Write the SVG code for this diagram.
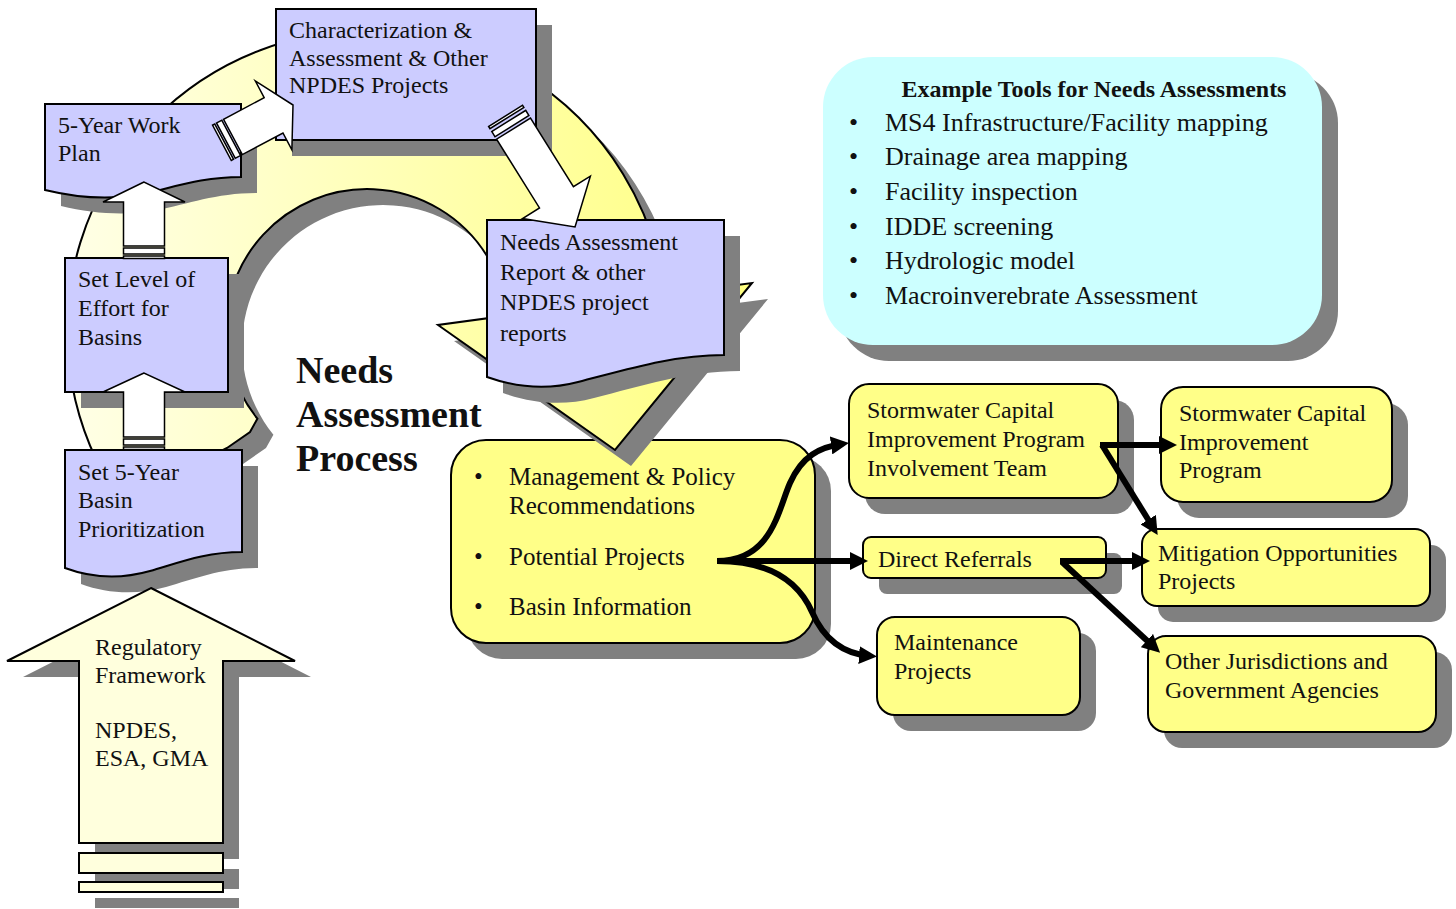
<svg xmlns="http://www.w3.org/2000/svg" xmlns:xlink="http://www.w3.org/1999/xlink" width="1456" height="909" viewBox="0 0 1456 909">
<defs>
  <linearGradient id="ringFill" gradientUnits="userSpaceOnUse" x1="70" y1="0" x2="750" y2="0">
    <stop offset="0" stop-color="#FFFFE6"/>
    <stop offset="1" stop-color="#FFFF80"/>
  </linearGradient>
  <marker id="ah" markerUnits="userSpaceOnUse" markerWidth="18" markerHeight="18" viewBox="0 0 18 18" refX="11" refY="9" orient="auto">
    <path d="M0,0 L18,9 L0,18 Z" fill="#000"/>
  </marker>
  <!-- circular process arrow -->
  <path id="ring" d="M257.4,418.7 L250,432 L227,448 L121,502 A300,300 0 1 1 665,294.6 L752,283 L615,450 L438,325 L507.3,315.6 A141,141 0 1 0 257.4,418.7 Z"/>
  <!-- document shapes -->
  <path id="docFive" d="M45,104 H241 V177 C200,177 172,188 142,194 C112,200 78,198 45,190 Z"/>
  <path id="docSet5" d="M65,450 H242 V552 C205,552 178,563 150,571 C122,579 92,578 65,568 Z"/>
  <path id="docNeeds" d="M487,220 H724 V355 C672,355 625,370 578,382 C548,390 518,388 487,377 Z"/>
  <path id="regArrow" d="M151,588 L295,661 L223,661 L223,843 L79,843 L79,661 L7,661 Z"/>
</defs>
<style>
  .sh{fill:#808080}
  .lav{fill:#CCCCFF;stroke:#000;stroke-width:2}
  .yel{fill:#FFFF88;stroke:#000;stroke-width:2}
  .cream{fill:#FFFFDD;stroke:#000;stroke-width:2}
  .blk{fill:#fff;stroke:#000;stroke-width:1.5}
  text{font-family:"Liberation Serif","Times New Roman",serif;font-size:24px;fill:#111}
  .b{font-weight:bold}
  .big{font-size:38px;font-weight:bold}
  .t25{font-size:25px}
  .t26{font-size:26px}
  .con{fill:none;stroke:#000;stroke-width:6;marker-end:url(#ah)}
</style>

<rect width="1456" height="909" fill="#fff"/>

<!-- outputs box under the cycle arrow head -->
<g id="outputs">
  <rect class="sh" x="467" y="456" width="364" height="203" rx="35"/>
  <rect class="yel" x="451" y="440" width="364" height="203" rx="35"/>
  <text class="t25" x="474" y="485">•</text>
  <text class="t25" x="509" y="485">Management &amp; Policy</text>
  <text class="t25" x="509" y="514">Recommendations</text>
  <text class="t25" x="474" y="565">•</text>
  <text class="t25" x="509" y="565">Potential Projects</text>
  <text class="t25" x="474" y="615">•</text>
  <text class="t25" x="509" y="615">Basin Information</text>
</g>

<!-- cycle arrow -->
<g id="cycle">
  <use xlink:href="#ring" href="#ring" class="sh" transform="translate(16,16)"/>
  <use xlink:href="#ring" href="#ring" fill="url(#ringFill)" stroke="#000" stroke-width="2"/>
</g>

<g id="characterization">
  <rect class="sh" x="292" y="25" width="260" height="131"/>
  <rect class="lav" x="276" y="9" width="260" height="131"/>
  <text x="289" y="38">Characterization &amp;</text>
  <text x="289" y="66">Assessment &amp; Other</text>
  <text x="289" y="93">NPDES Projects</text>
</g>

<g id="workplan">
  <use xlink:href="#docFive" href="#docFive" class="sh" transform="translate(16,16)"/>
  <use xlink:href="#docFive" href="#docFive" class="lav"/>
  <text x="58" y="133">5-Year Work</text>
  <text x="58" y="161">Plan</text>
</g>

<g id="effort">
  <rect class="sh" x="81" y="274" width="163" height="134"/>
  <rect class="lav" x="65" y="258" width="163" height="134"/>
  <text x="78" y="287">Set Level of</text>
  <text x="78" y="316">Effort for</text>
  <text x="78" y="345">Basins</text>
</g>

<g id="prioritization">
  <use xlink:href="#docSet5" href="#docSet5" class="sh" transform="translate(16,16)"/>
  <use xlink:href="#docSet5" href="#docSet5" class="lav"/>
  <text x="78" y="480">Set 5-Year</text>
  <text x="78" y="508">Basin</text>
  <text x="78" y="537">Prioritization</text>
</g>

<g id="report">
  <use xlink:href="#docNeeds" href="#docNeeds" class="sh" transform="translate(16,16)"/>
  <use xlink:href="#docNeeds" href="#docNeeds" class="lav"/>
  <text x="500" y="250">Needs Assessment</text>
  <text x="500" y="280">Report &amp; other</text>
  <text x="500" y="310">NPDES project</text>
  <text x="500" y="341">reports</text>
</g>

<!-- striped block arrows between process steps (drawn pointing +x, then placed) -->
<g id="step-arrows">
  <g transform="translate(144,373) rotate(-90)">
    <path class="blk" d="M0,0 L-19,-41 L-19,-20.5 L-64,-20.5 L-64,20.5 L-19,20.5 L-19,41 Z"/>
    <rect class="blk" x="-72" y="-20.5" width="6" height="41"/>
    <rect class="blk" x="-76.5" y="-20.5" width="2.5" height="41"/>
  </g>
  <g transform="translate(144,182) rotate(-90)">
    <path class="blk" d="M0,0 L-20,-41 L-20,-20.5 L-64,-20.5 L-64,20.5 L-20,20.5 L-20,41 Z"/>
    <rect class="blk" x="-72" y="-20.5" width="6" height="41"/>
    <rect class="blk" x="-76.5" y="-20.5" width="2.5" height="41"/>
  </g>
  <g transform="translate(293,105) rotate(-28)">
    <path class="blk" d="M0,0 L-22,-39 L-22,-20 L-68,-20 L-68,20 L-22,20 L-22,39 Z"/>
    <rect class="blk" x="-76" y="-20" width="6" height="40"/>
    <rect class="blk" x="-80.5" y="-20" width="2.5" height="40"/>
  </g>
  <g transform="translate(575,227) rotate(58)">
    <path class="blk" d="M0,0 L-35,-40 L-35,-20 L-116,-20 L-116,20 L-35,20 L-35,40 Z"/>
    <rect class="blk" x="-125" y="-20" width="6" height="40"/>
    <rect class="blk" x="-131" y="-20" width="2.5" height="40"/>
  </g>
</g>

<g id="regulatory">
  <use xlink:href="#regArrow" href="#regArrow" class="sh" transform="translate(16,16)"/>
  <rect class="sh" x="95" y="869" width="144" height="20"/>
  <rect class="sh" x="95" y="898" width="144" height="10"/>
  <use xlink:href="#regArrow" href="#regArrow" class="cream"/>
  <rect class="cream" x="79" y="853" width="144" height="20"/>
  <rect class="cream" x="79" y="882" width="144" height="10"/>
  <text x="95" y="655">Regulatory</text>
  <text x="95" y="683">Framework</text>
  <text x="95" y="738">NPDES,</text>
  <text x="95" y="766">ESA, GMA</text>
</g>

<g id="title">
  <text class="big" x="296" y="383">Needs</text>
  <text class="big" x="296" y="427">Assessment</text>
  <text class="big" x="296" y="471">Process</text>
</g>

<g id="tools">
  <rect class="sh" x="839" y="73" width="499" height="288" rx="50"/>
  <rect x="823" y="57" width="499" height="288" rx="50" fill="#CCFFFF"/>
  <text class="b" x="1094" y="97" text-anchor="middle">Example Tools for Needs Assessments</text>
  <text class="t26" x="849" y="131">•</text>
  <text class="t26" x="885" y="131">MS4 Infrastructure/Facility mapping</text>
  <text class="t26" x="849" y="165">•</text>
  <text class="t26" x="885" y="165">Drainage area mapping</text>
  <text class="t26" x="849" y="200">•</text>
  <text class="t26" x="885" y="200">Facility inspection</text>
  <text class="t26" x="849" y="235">•</text>
  <text class="t26" x="885" y="235">IDDE screening</text>
  <text class="t26" x="849" y="269">•</text>
  <text class="t26" x="885" y="269">Hydrologic model</text>
  <text class="t26" x="849" y="304">•</text>
  <text class="t26" x="885" y="304">Macroinverebrate Assessment</text>
</g>

<g id="cip-team">
  <rect class="sh" x="865" y="400" width="269" height="114" rx="20"/>
  <rect class="yel" x="849" y="384" width="269" height="114" rx="20"/>
  <text x="867" y="418">Stormwater Capital</text>
  <text x="867" y="447">Improvement Program</text>
  <text x="867" y="476">Involvement Team</text>
</g>

<g id="referrals">
  <rect class="sh" x="879" y="553" width="243" height="41" rx="8"/>
  <rect class="yel" x="863" y="537" width="243" height="41" rx="8"/>
  <text x="878" y="567">Direct Referrals</text>
</g>

<g id="maintenance">
  <rect class="sh" x="893" y="633" width="203" height="98" rx="18"/>
  <rect class="yel" x="877" y="617" width="203" height="98" rx="18"/>
  <text x="894" y="650">Maintenance</text>
  <text x="894" y="679">Projects</text>
</g>

<g id="cip">
  <rect class="sh" x="1177" y="403" width="231" height="115" rx="22"/>
  <rect class="yel" x="1161" y="387" width="231" height="115" rx="22"/>
  <text x="1179" y="421">Stormwater Capital</text>
  <text x="1179" y="450">Improvement</text>
  <text x="1179" y="478">Program</text>
</g>

<g id="mitigation">
  <rect class="sh" x="1158" y="545" width="288" height="77" rx="15"/>
  <rect class="yel" x="1142" y="529" width="288" height="77" rx="15"/>
  <text x="1158" y="561">Mitigation Opportunities</text>
  <text x="1158" y="589">Projects</text>
</g>

<g id="jurisdictions">
  <rect class="sh" x="1164" y="652" width="288" height="96" rx="18"/>
  <rect class="yel" x="1148" y="636" width="288" height="96" rx="18"/>
  <text x="1165" y="669">Other Jurisdictions and</text>
  <text x="1165" y="698">Government Agencies</text>
</g>

<g id="connectors">
  <path class="con" d="M717,561 C772,561 778,510 790,483 C802,456 820,447 842,444"/>
  <path class="con" d="M717,561 L861,561"/>
  <path class="con" d="M717,561 C775,561 800,585 812,612 C825,642 845,654 870,656"/>
  <path class="con" d="M1100,445 L1170,445"/>
  <path class="con" d="M1102,445 L1154,529"/>
  <path class="con" d="M1060,561 L1143,561"/>
  <path class="con" d="M1062,562 L1155,648"/>
</g>
</svg>
